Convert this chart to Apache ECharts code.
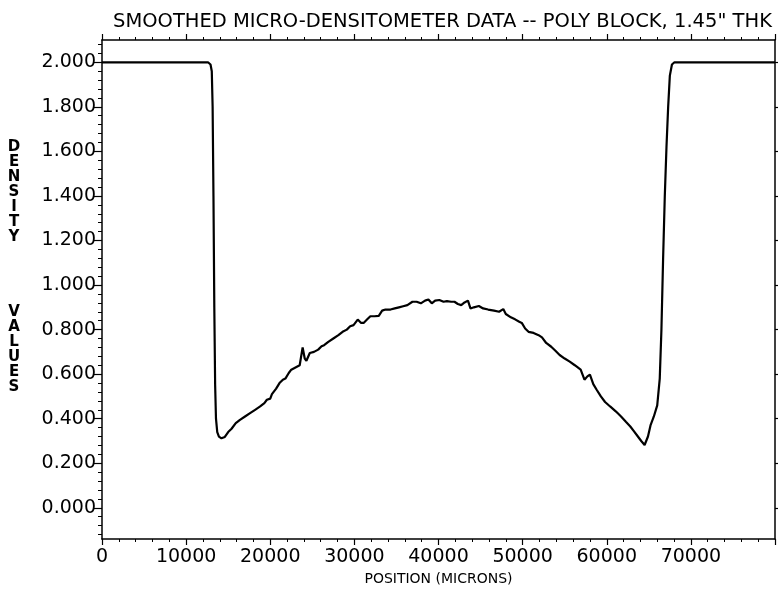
<!DOCTYPE html>
<html><head><meta charset="utf-8">
<script src="https://cdn.jsdelivr.net/npm/echarts@6/dist/echarts.min.js"></script>
<style>html,body{margin:0;padding:0;background:#fff}#c{width:778px;height:596px}</style>
</head><body><div id="c"></div>
<script>
const titleText = 'SMOOTHED MICRO-DENSITOMETER DATA -- POLY BLOCK, 1.45" THK';
const xAxisTitle = 'POSITION (MICRONS)';
const yAxisTitle = 'D\nE\nN\nS\nI\nT\nY\n \n \n \n \nV\nA\nL\nU\nE\nS\n \n \n ';

// position (microns)
const positions = [
  0, 12600, 12900, 13050, 13150, 13250, 13350, 13450, 13550, 13700, 13900, 14200, 14600, 15000, 15400, 15900,
  16400, 17000, 17600, 18200, 18800, 19300, 19600, 20000, 20200, 20700, 21100, 21500, 21800, 22200, 22500, 23000,
  23500, 23850, 24100, 24300, 24700, 25200, 25700, 26100, 26400, 26900, 27500, 28100, 28600, 29100, 29500, 29900,
  30400, 30800, 31100, 31500, 31900, 32400, 32900, 33300, 33700, 34300, 34800, 35300, 35800, 36300, 36900, 37400,
  37900, 38400, 38800, 39200, 39600, 40100, 40600, 41000, 41500, 41900, 42300, 42700, 43100, 43500, 43800, 44200,
  44800, 45300, 45900, 46600, 47200, 47700, 48000, 48600, 49100, 49600, 49900, 50300, 50700, 51300, 51900, 52300,
  52800, 53400, 53900, 54400, 55000, 55600, 56200, 56900, 57350, 57700, 58000, 58400, 58800, 59300, 59800, 60400,
  61100, 61700, 62300, 62800, 63200, 63700, 64100, 64500, 64700, 64900, 65200, 65600, 66000, 66300, 66500, 66700,
  66900, 67100, 67300, 67500, 67750, 68050, 80000
];
// density values
const densities = [
  2.0, 2.0, 1.99, 1.96, 1.80, 1.40, 0.90, 0.55, 0.40, 0.34, 0.32, 0.312, 0.318, 0.34, 0.355, 0.38,
  0.395, 0.41, 0.425, 0.44, 0.455, 0.47, 0.485, 0.49, 0.51, 0.535, 0.56, 0.575, 0.58, 0.605, 0.62, 0.63,
  0.64, 0.72, 0.67, 0.66, 0.695, 0.70, 0.71, 0.725, 0.73, 0.745, 0.76, 0.775, 0.79, 0.80, 0.815, 0.82,
  0.845, 0.83, 0.83, 0.845, 0.86, 0.86, 0.862, 0.885, 0.89, 0.89, 0.895, 0.90, 0.905, 0.91, 0.925, 0.925,
  0.918, 0.93, 0.935, 0.918, 0.93, 0.933, 0.925, 0.928, 0.925, 0.925, 0.915, 0.91, 0.922, 0.93, 0.895, 0.90,
  0.906, 0.895, 0.89, 0.885, 0.88, 0.892, 0.87, 0.855, 0.846, 0.835, 0.83, 0.805, 0.79, 0.785, 0.775, 0.765,
  0.74, 0.723, 0.705, 0.686, 0.67, 0.656, 0.64, 0.62, 0.575, 0.59, 0.598, 0.555, 0.53, 0.50, 0.475, 0.455,
  0.432, 0.41, 0.385, 0.365, 0.345, 0.32, 0.30, 0.282, 0.29, 0.32, 0.37, 0.41, 0.46, 0.58, 0.80, 1.12,
  1.40, 1.62, 1.80, 1.94, 1.99, 2.0, 2.0
];

const yMajorTicks = [0, 0.2, 0.4, 0.6, 0.8, 1.0, 1.2, 1.4, 1.6, 1.8, 2.0];
const yMinorTicks = [-0.12, -0.08, -0.04,
  0.04, 0.08, 0.12, 0.16, 0.24, 0.28, 0.32, 0.36, 0.44, 0.48, 0.52, 0.56,
  0.64, 0.68, 0.72, 0.76, 0.84, 0.88, 0.92, 0.96, 1.04, 1.08, 1.12, 1.16,
  1.24, 1.28, 1.32, 1.36, 1.44, 1.48, 1.52, 1.56, 1.64, 1.68, 1.72, 1.76,
  1.84, 1.88, 1.92, 1.96, 2.04, 2.08];

const FONT = 'DejaVu Sans';
const chart = echarts.init(document.getElementById('c'), null, {renderer: 'canvas'});
const line = {show: true, onZero: false, lineStyle: {color: '#000', width: 1.5}};
const xCommon = {
  type: 'value', min: 0, max: 80000, interval: 10000,
  axisLine: line, splitLine: {show: false},
  axisTick: {show: true, length: 6, lineStyle: {color: '#000', width: 1.2}},
  minorTick: {show: true, splitNumber: 5, length: 3, lineStyle: {color: '#000', width: 1}}
};
const yCommon = {
  type: 'value', min: -0.14, max: 2.1, splitLine: {show: false}
};
chart.setOption({
  animation: false,
  backgroundColor: '#fff',
  title: {
    text: titleText, left: 108, top: 7,
    textStyle: {fontFamily: FONT, fontSize: 19.5, fontWeight: 'normal', color: '#000'}
  },
  grid: {left: 102, right: 2, top: 40, bottom: 57, containLabel: false},
  xAxis: [
    Object.assign({}, xCommon, {
      position: 'bottom',
      name: xAxisTitle, nameLocation: 'middle', nameGap: 31,
      nameTextStyle: {fontFamily: FONT, fontSize: 14, color: '#000'},
      axisLabel: {
        show: true, margin: 9, color: '#000', fontFamily: FONT, fontSize: 19,
        formatter: v => (v >= 80000 ? '' : String(v))
      }
    }),
    Object.assign({}, xCommon, {position: 'top', axisLabel: {show: false}})
  ],
  yAxis: [
    Object.assign({}, yCommon, {
      position: 'left',
      axisLine: line,
      axisTick: {show: true, length: 8, customValues: yMajorTicks, lineStyle: {color: '#000', width: 1.2}},
      axisLabel: {
        show: true, margin: 6, color: '#000', fontFamily: FONT, fontSize: 19,
        customValues: yMajorTicks, formatter: v => v.toFixed(3)
      },
      name: yAxisTitle, nameLocation: 'middle', nameRotate: 0, nameGap: 88,
      nameTextStyle: {
        fontFamily: FONT, fontSize: 15, fontWeight: 'bold', color: '#000',
        lineHeight: 15, align: 'center', verticalAlign: 'middle'
      }
    }),
    Object.assign({}, yCommon, {
      position: 'left', axisLine: {show: false, onZero: false},
      axisTick: {show: true, length: 4, customValues: yMinorTicks, lineStyle: {color: '#000', width: 1}},
      axisLabel: {show: false}
    }),
    Object.assign({}, yCommon, {
      position: 'right', axisLine: line,
      axisTick: {show: true, length: 6, customValues: yMajorTicks, lineStyle: {color: '#000', width: 1.2}},
      axisLabel: {show: false}
    })
  ],
  series: [{
    type: 'line', xAxisIndex: 0, yAxisIndex: 0,
    data: positions.map((p, i) => [p, densities[i]]),
    showSymbol: false, symbol: 'none', smooth: false,
    lineStyle: {color: '#000', width: 2.2}
  }]
});
</script></body></html>
